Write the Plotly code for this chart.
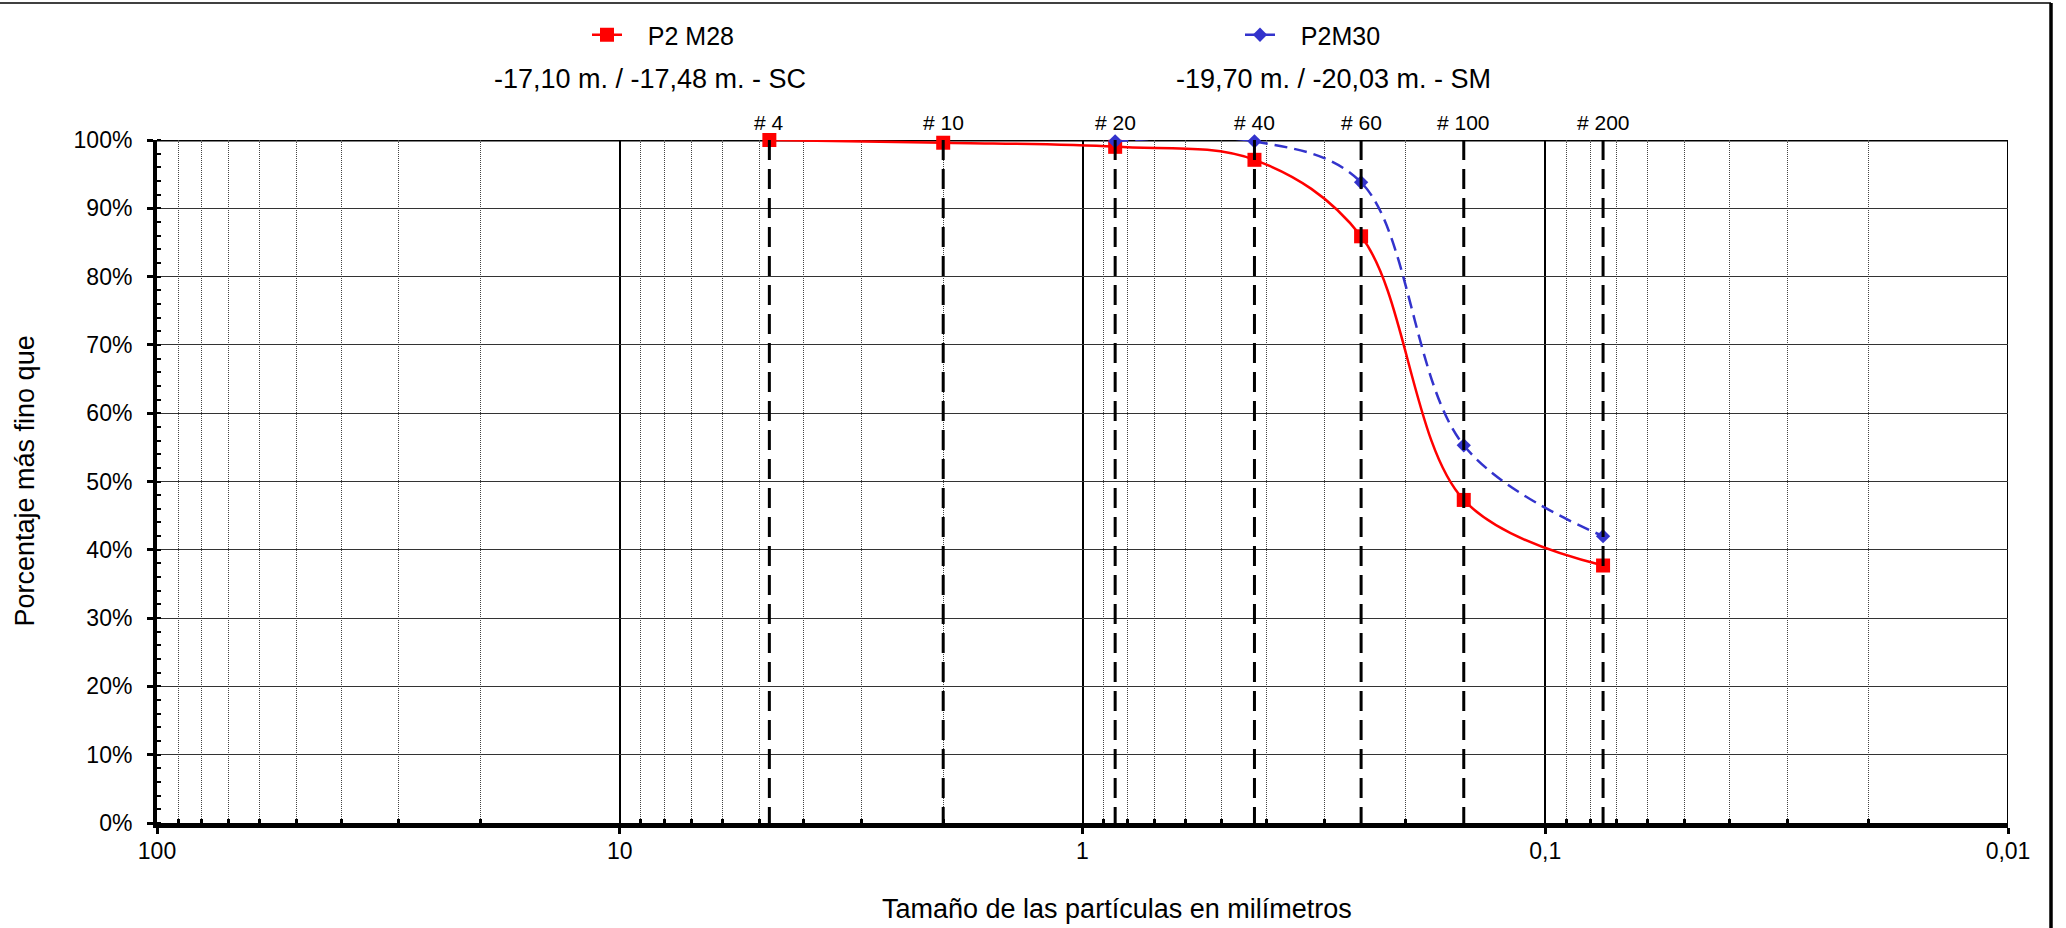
import numpy as np
import plotly.graph_objects as go

# Sieve series (ASTM) shown as reference lines
sieve_names = ["# 4", "# 10", "# 20", "# 40", "# 60", "# 100", "# 200"]
sieve_mm = [4.75, 2.0, 0.85, 0.425, 0.25, 0.15, 0.075]

# Sample P2 M28 (-17,10 m. / -17,48 m. - SC)
m28_size = [4.75, 2.0, 0.85, 0.425, 0.25, 0.15, 0.075]
m28_pass = [100.0, 99.6, 99.0, 97.1, 85.9, 47.3, 37.7]

# Sample P2M30 (-19,70 m. / -20,03 m. - SM)
m30_size = [0.85, 0.425, 0.25, 0.15, 0.075]
m30_pass = [99.8, 99.8, 93.8, 55.3, 42.0]

major_x = [100, 10, 1, 0.1, 0.01]
major_x_text = ["100", "10", "1", "0,1", "0,01"]
minor_x = [m * 10.0 ** e for e in range(-2, 2) for m in range(2, 10)]

W, H = 2066, 928
ML, MR, MT, MB = 157, 58, 140, 105
PW = W - ML - MR
PH = H - MT - MB


def px_x(px):
    return (px - ML) / PW


def px_y(py):
    return (H - MB - py) / PH


FONT = "Arial, 'Liberation Sans', sans-serif"
NBSP = "\u00a0"

fig = go.Figure()

fig.add_trace(go.Scatter(
    x=m28_size, y=m28_pass, name=NBSP * 3 + "P2 M28", mode="lines+markers",
    line=dict(color="#FF0000", width=2.5, shape="spline", smoothing=1),
    marker=dict(symbol="square", size=14, color="#FF0000"),
    cliponaxis=False, legend="legend",
))
fig.add_trace(go.Scatter(
    x=m30_size, y=m30_pass, name=NBSP * 3 + "P2M30", mode="lines+markers",
    line=dict(color="#3333CC", width=2.5, shape="spline", smoothing=1, dash="13px,7px"),
    marker=dict(symbol="diamond", size=11, color="#3333CC"),
    cliponaxis=False, legend="legend2",
))

shapes = []
annotations = []

# Vertical dashed lines at each sieve opening, with their names above the plot
for name, s in zip(sieve_names, sieve_mm):
    shapes.append(dict(type="line", xref="x", yref="y", x0=s, x1=s, y0=100, y1=0,
                       line=dict(color="black", width=3, dash="20px,9px"), layer="above"))
    annotations.append(dict(x=np.log10(s), y=px_y(122.5), xref="x", yref="paper",
                            text=name, showarrow=False, xanchor="center", yanchor="middle",
                            font=dict(family=FONT, size=21, color="black")))

# Heavy frame on top (100 %) and right (0,01 mm) of the plot area
shapes.append(dict(type="line", xref="paper", yref="y", x0=0, x1=1, y0=100, y1=100,
                   line=dict(color="black", width=3), layer="between"))
shapes.append(dict(type="line", xref="x", yref="paper", x0=0.01, x1=0.01, y0=0, y1=1,
                   line=dict(color="black", width=2), layer="between"))

# Outer chart border (top and right edges)
shapes.append(dict(type="line", xref="paper", yref="paper", x0=px_x(-5), x1=px_x(2051), y0=px_y(3), y1=px_y(3),
                   line=dict(color="black", width=1.5)))
shapes.append(dict(type="line", xref="paper", yref="paper", x0=px_x(2051), x1=px_x(2051), y0=px_y(3), y1=px_y(935),
                   line=dict(color="black", width=3.5)))

# Sample descriptions under each legend entry
annotations.append(dict(x=px_x(650), y=px_y(79), xref="paper", yref="paper",
                        text="-17,10 m. / -17,48 m. - SC", showarrow=False,
                        xanchor="center", yanchor="middle",
                        font=dict(family=FONT, size=27, color="black")))
annotations.append(dict(x=px_x(1333), y=px_y(79), xref="paper", yref="paper",
                        text="-19,70 m. / -20,03 m. - SM", showarrow=False,
                        xanchor="center", yanchor="middle",
                        font=dict(family=FONT, size=27, color="black")))

# Axis titles
annotations.append(dict(x=px_x(1117), y=px_y(909), xref="paper", yref="paper",
                        text="Tamaño de las partículas en milímetros", showarrow=False,
                        xanchor="center", yanchor="middle",
                        font=dict(family=FONT, size=27, color="black")))
annotations.append(dict(x=px_x(24), y=0.5, xref="paper", yref="paper",
                        text="Porcentaje más fino que", showarrow=False, textangle=-90,
                        xanchor="center", yanchor="middle",
                        font=dict(family=FONT, size=27, color="black")))

legend_common = dict(orientation="h", yanchor="middle", xanchor="left",
                     font=dict(family=FONT, size=25, color="black"),
                     bgcolor="rgba(0,0,0,0)", borderwidth=0)

fig.update_layout(
    width=W, height=H, autosize=False,
    margin=dict(l=ML, r=MR, t=MT, b=MB, pad=0),
    paper_bgcolor="white", plot_bgcolor="white",
    font=dict(family=FONT, size=23, color="black"),
    showlegend=True,
    legend=dict(x=px_x(587), y=px_y(35), **legend_common),
    legend2=dict(x=px_x(1240), y=px_y(35), **legend_common),
    shapes=shapes,
    annotations=annotations,
    xaxis=dict(
        type="log", range=[2, -2], autorange=False,
        tickmode="array", tickvals=major_x, ticktext=major_x_text,
        ticks="outside", ticklen=6, tickwidth=3, tickcolor="black",
        ticklabelstandoff=-3,
        showline=True, linewidth=5, linecolor="black",
        showgrid=True, gridcolor="black", gridwidth=2,
        zeroline=False,
        tickfont=dict(family=FONT, size=23, color="black"),
        minor=dict(tickmode="array", tickvals=minor_x, ticks="inside", ticklen=4,
                   tickwidth=3, tickcolor="black", showgrid=True,
                   gridcolor="#444444", gridwidth=1, griddash="1px,1px"),
    ),
    yaxis=dict(
        range=[0, 100], autorange=False, dtick=10, ticksuffix="%",
        ticks="outside", ticklen=6, tickwidth=3, tickcolor="black",
        ticklabelstandoff=10,
        showline=True, linewidth=4, linecolor="black",
        showgrid=True, gridcolor="#333333", gridwidth=1,
        zeroline=False,
        tickfont=dict(family=FONT, size=23, color="black"),
        minor=dict(dtick=2, ticks="inside", ticklen=4, tickwidth=2,
                   tickcolor="black", showgrid=False),
    ),
)

fig.write_html("out.html")
